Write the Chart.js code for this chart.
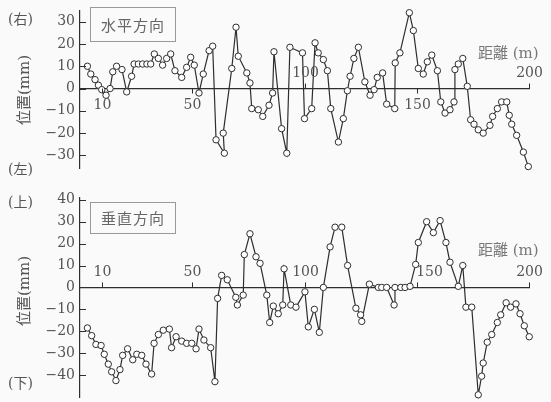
<!DOCTYPE html>
<html>
<head>
<meta charset="utf-8">
<script src="https://cdn.jsdelivr.net/npm/chart.js@4"></script>
<style>
  body { margin: 0; background: #fafafa; }
  #wrap { position: relative; width: 551px; height: 402px; background: #fafafa; overflow: hidden; }
  canvas { position: absolute; left: 0; }
  .lbl { position: absolute; font-family: "DejaVu Serif", "Noto Sans CJK JP"; color: #555; white-space: nowrap; }
  .side { font-size: 14px; }
  .ylab { font-size: 15px; transform: translate(-50%, -50%) rotate(-90deg); }
  .box { border: 1px solid #999; font-family: "Noto Sans CJK JP"; font-size: 15px; color: #666;
         text-align: center; letter-spacing: 1px; }
  .dist { font-size: 15px; color: #777; }
</style>
</head>
<body>
<div id="wrap">
  <canvas id="topChart" width="551" height="200" style="top:0"></canvas>
  <canvas id="botChart" width="551" height="210" style="top:192px"></canvas>

  <div class="lbl side" style="left:8px; top:8px">(右)</div>
  <div class="lbl side" style="left:8px; top:158px">(左)</div>
  <div class="lbl ylab" style="left:22px; top:90px">位置(mm)</div>
  <div class="lbl box" style="left:90px; top:7px; width:84px; height:33px; line-height:33px">水平方向</div>
  <div class="lbl dist" style="left:478px; top:41px">距離 (m)</div>

  <div class="lbl side" style="left:8px; top:191px">(上)</div>
  <div class="lbl side" style="left:8px; top:372px">(下)</div>
  <div class="lbl ylab" style="left:22px; top:291px">位置(mm)</div>
  <div class="lbl box" style="left:90px; top:202px; width:84px; height:30px; line-height:30px">垂直方向</div>
  <div class="lbl dist" style="left:478px; top:238px">距離 (m)</div>
</div>
<script>
// distance along the line (m) and deviation (mm)
const distH = [3.3,4.8,6.7,8.2,9.7,11.6,13.4,14.6,16.3,18.7,
  20.8,23.0,24.1,26.0,27.9,29.8,31.5,33.1,34.9,36.8,
  38.6,40.4,42.3,45.3,47.5,49.3,50.9,53.0,54.9,57.5,
  59.1,60.6,64.3,63.8,67.6,69.5,70.5,74.3,75.7,76.5,
  79.4,81.4,84.2,85.8,86.4,89.8,92.1,93.5,99.1,100.0,
  103.2,104.7,106.1,108.4,110.2,111.7,115.1,117.3,119.1,120.3,
  122.0,124.0,126.9,129.2,131.0,132.4,134.8,136.6,140.2,140.4,
  142.5,146.7,148.5,150.7,152.9,154.7,156.7,159.2,160.7,162.6,
  164.8,166.6,167.0,168.5,170.5,172.5,174.0,175.5,177.4,179.6,
  182.6,183.8,185.9,187.8,190.1,191.2,192.3,194.5,197.5,199.7];
const posH = [10,6.5,4,1.5,-0.5,-3,0,7.5,10,8.5,
  -1.5,5.5,11,11,11,11,11,15.5,13.5,10.5,
  13.5,15.5,8,5,9.5,14,10.5,-2,6.5,17,
  19,-23,-29,-20,9,27.5,14.5,7,2.5,-9,
  -9.5,-12.5,-7.5,-2,16.5,-18,-29,18.5,16,-13.5,
  -9,20.5,16,13,8,-9,-24,-13.5,-1,5.5,
  13.5,18.5,3,-3,-0.5,5,7,-7,-9,11.5,
  16,34,26,9,6.5,12,15,8,-6,-11,
  -9.5,-6,8.5,11,13.5,1,-14,-16,-18.5,-20,
  -16.5,-12.5,-9,-6,-6,-12,-16,-21,-28.5,-35];

const distV = [3.3,5.2,7.1,9.4,10.8,12.6,14.1,16.0,17.8,19.0,
  21.2,23.5,25.3,27.5,29.4,31.9,33.0,34.9,37.1,39.8,
  40.8,42.8,45.3,47.5,49.8,51.7,53.0,55.2,58.2,60.1,
  61.3,63.1,65.6,69.4,70.1,72.7,73.2,75.7,78.4,80.2,
  83.2,84.5,86.1,88.3,90.3,90.9,93.9,96.2,100.2,101.7,
  104.4,106.6,108.4,111.4,113.6,116.6,119.2,122.9,125.0,125.5,
  128.9,132.9,134.4,136.6,139.9,140.3,142.9,144.8,147.0,149.5,
  150.7,154.4,157.4,160.4,163.0,164.8,168.5,170.5,171.9,174.5,
  177.4,178.9,179.6,181.4,183.4,185.9,187.4,189.8,191.8,194.2,
  196.0,197.9,200.1];
const posV = [-18.5,-22,-26,-26.5,-30.5,-35,-38.5,-42.5,-37.5,-31,
  -28,-33,-30.5,-31,-35,-39.5,-25.5,-21.5,-19.5,-19,
  -27.5,-22.5,-24.5,-25.5,-25.5,-28,-19,-24,-27.5,-43,
  -5,5.5,3.5,-4.5,-8,-3.5,15,24.5,14,11,
  -3.5,-16,-8.5,-12,-8,8.5,-8,-9,-2,-18,
  -10,-20.5,0,18.5,27.5,27.5,10,-9.5,-12.5,-15.5,
  1.5,0,0,0,-8,0,0,0,0.5,10.5,
  20.5,30,25,30.5,20.5,11.5,0.5,10,-9,-9,
  -49,-40.5,-34.5,-25,-21.5,-16,-12.5,-7,-9,-7.5,
  -12,-17.5,-22.5];

const xTicks = [10, 50, 100, 150, 200];
const yTicksH = [-30, -20, -10, 0, 10, 20, 30];
const yTicksV = [-40, -30, -20, -10, 0, 10, 20, 30, 40];

const ink = '#2e2e2e';
const numFont = 'DejaVu Serif';
const fmt = v => (v < 0 ? '\u2212' + Math.abs(v) : String(v));

// inner y ticks, x tick marks and labels next to the zero line
const axisMarks = {
  id: 'axisMarks',
  afterDraw(chart, args, o) {
    const { ctx, scales: { x, y } } = chart;
    const y0 = y.getPixelForValue(0);
    ctx.save();
    ctx.strokeStyle = ink;
    ctx.lineWidth = 1;
    ctx.beginPath();
    o.yTicks.forEach(v => {
      const py = Math.round(y.getPixelForValue(v)) + 0.5;
      ctx.moveTo(x.left, py);
      ctx.lineTo(x.left + 6, py);
    });
    ctx.stroke();
    ctx.font = '14px "' + numFont + '"';
    ctx.fillStyle = '#555';
    ctx.textAlign = 'center';
    ctx.textBaseline = 'middle';
    xTicks.forEach(v => {
      const px = Math.round(x.getPixelForValue(v)) + 0.5;
      const up = o.above.includes(v);
      ctx.beginPath();
      ctx.moveTo(px, y0);
      ctx.lineTo(px, y0 + (up ? -5 : 5));
      ctx.stroke();
      ctx.fillText(String(v), px + (o.shift[v] || 0), y0 + (up ? -15 : 17));
    });
    ctx.restore();
  }
};

function makeChart(id, dist, pos, yMin, yMax, yTicks, pad, marks) {
  return new Chart(document.getElementById(id), {
    type: 'scatter',
    data: {
      datasets: [{
        data: dist.map((d, i) => ({ x: d, y: pos[i] })),
        showLine: true,
        borderColor: ink,
        borderWidth: 1.2,
        pointRadius: 3.2,
        pointBorderWidth: 1,
        pointBackgroundColor: '#fff',
        pointBorderColor: ink,
        tension: 0,
        clip: false
      }]
    },
    options: {
      responsive: false,
      animation: false,
      layout: { padding: pad },
      scales: {
        x: {
          type: 'linear',
          position: { y: 0 },
          min: 0,
          max: 200,
          ticks: { display: false },
          grid: { drawOnChartArea: false, drawTicks: false },
          border: { color: ink, width: 1.2 },
          afterFit: s => { s.paddingLeft = 0; s.paddingRight = 0; }
        },
        y: {
          type: 'linear',
          min: yMin,
          max: yMax,
          afterBuildTicks: s => { s.ticks = yTicks.map(v => ({ value: v })); },
          afterFit: s => { s.width = 80; s.paddingTop = 0; s.paddingBottom = 0; },
          grid: { drawOnChartArea: false, drawTicks: false },
          border: { color: ink, width: 1.2 },
          ticks: {
            autoSkip: false,
            padding: 5,
            color: '#555',
            font: { family: numFont, size: 14 },
            callback: v => fmt(v)
          }
        }
      },
      plugins: {
        legend: { display: false },
        tooltip: { enabled: false },
        axisMarks: marks
      }
    },
    plugins: [axisMarks]
  });
}

makeChart('topChart', distH, posH, -36, 35, yTicksH,
  { left: 0, right: 22, top: 10.5, bottom: 31.2 },
  { yTicks: yTicksH, above: [100, 200], shift: {} });

makeChart('botChart', distV, posV, -50, 41, yTicksV,
  { left: 0, right: 22, top: 5.6, bottom: 1.5 },
  { yTicks: yTicksV, above: xTicks, shift: { 150: 12 } });
</script>
</body>
</html>
